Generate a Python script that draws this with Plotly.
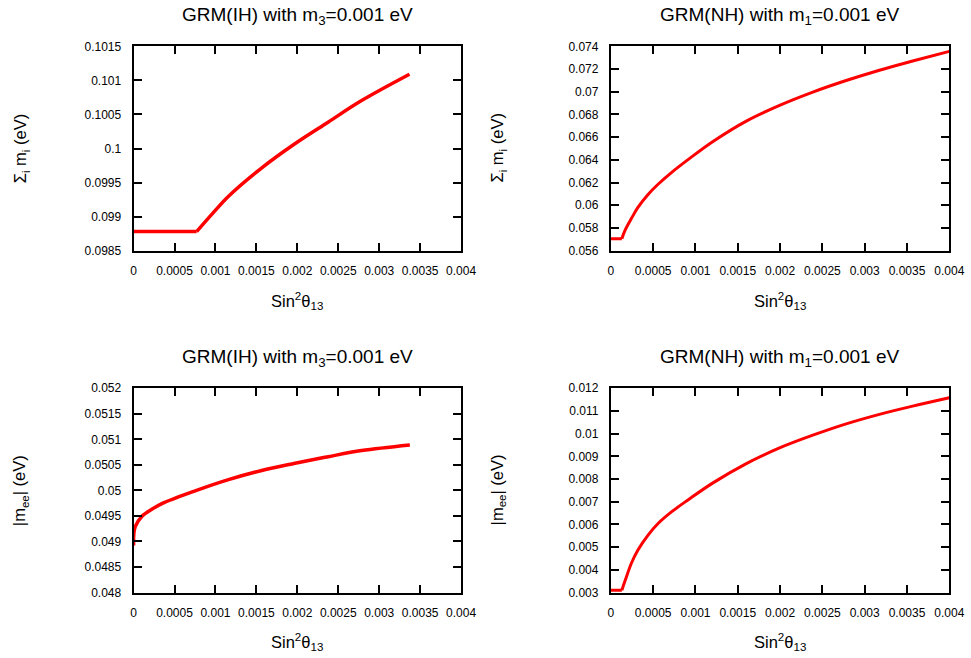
import plotly.graph_objects as go

# ---- data ----
ih_sum_x = [0, 0.00077, 0.00096, 0.00116, 0.00157, 0.00197, 0.00238, 0.00278, 0.00337]
ih_sum_y = [0.09878, 0.09878, 0.09904, 0.09930, 0.09972, 0.10007, 0.10039, 0.10070, 0.10109]

nh_sum_x = [0, 0.00013, 0.000165, 0.000244, 0.000322, 0.00044, 0.000558, 0.000716, 0.000912,
            0.001207, 0.001601, 0.001994, 0.002387, 0.002781, 0.003174, 0.003567, 0.004]
nh_sum_y = [0.05705, 0.05705, 0.05775, 0.05885, 0.05983, 0.06095, 0.06185, 0.06288, 0.06402,
            0.06562, 0.06742, 0.06880, 0.06997, 0.07099, 0.07190, 0.07271, 0.07356]

ih_mee_x = [0, 0, 0.00002, 0.0001, 0.000223, 0.000346, 0.000752, 0.001159, 0.001565,
            0.001972, 0.002378, 0.002785, 0.003374]
ih_mee_y = [0.04892, 0.04907, 0.04929, 0.04949, 0.04963, 0.04974, 0.04999, 0.05021, 0.05039,
            0.05053, 0.05066, 0.05078, 0.05089]

nh_mee_x = [0, 0.00013, 0.000173, 0.000244, 0.000322, 0.00044, 0.000558, 0.000716, 0.000912,
            0.001207, 0.001601, 0.001994, 0.002387, 0.002781, 0.003174, 0.003567, 0.004]
nh_mee_y = [0.0031, 0.0031, 0.00357, 0.0043, 0.00488, 0.00553, 0.00604, 0.00655, 0.00708,
            0.00783, 0.00868, 0.00937, 0.00993, 0.01043, 0.01085, 0.01121, 0.01158]

x_tickvals = [0, 0.0005, 0.001, 0.0015, 0.002, 0.0025, 0.003, 0.0035, 0.004]
x_ticktext = ["0", "0.0005", "0.001", "0.0015", "0.002", "0.0025", "0.003", "0.0035", "0.004"]

ih_sum_tickvals = [0.0985, 0.099, 0.0995, 0.1, 0.1005, 0.101, 0.1015]
ih_sum_ticktext = ["0.0985", "0.099", "0.0995", "0.1", "0.1005", "0.101", "0.1015"]
nh_sum_tickvals = [0.056, 0.058, 0.060, 0.062, 0.064, 0.066, 0.068, 0.070, 0.072, 0.074]
nh_sum_ticktext = ["0.056", "0.058", "0.06", "0.062", "0.064", "0.066", "0.068", "0.07", "0.072", "0.074"]
ih_mee_tickvals = [0.048, 0.0485, 0.049, 0.0495, 0.05, 0.0505, 0.051, 0.0515, 0.052]
ih_mee_ticktext = ["0.048", "0.0485", "0.049", "0.0495", "0.05", "0.0505", "0.051", "0.0515", "0.052"]
nh_mee_tickvals = [0.003, 0.004, 0.005, 0.006, 0.007, 0.008, 0.009, 0.010, 0.011, 0.012]
nh_mee_ticktext = ["0.003", "0.004", "0.005", "0.006", "0.007", "0.008", "0.009", "0.01", "0.011", "0.012"]

title_ih = "GRM(IH) with m<sub>3</sub>=0.001 eV"
title_nh = "GRM(NH) with m<sub>1</sub>=0.001 eV"
xlabel = "Sin<sup>2</sup>θ<sub>13</sub>"
ylabel_sum = "Σ<sub>i</sub> m<sub>i</sub> (eV)"
ylabel_mee = "|m<sub>ee</sub>| (eV)"

W, H = 971, 658
FONT = "Liberation Sans, Arial, Helvetica, sans-serif"
RED = "#ff0000"

# map target pixel positions to layout pixels (compensates the capture's slight scale/offset)
SX, OX = 0.983, 2.2
SY, OY = 0.982, 5.5


def fx(p):
    return ((p - OX) / SX) / W


def fy(p):
    return 1 - ((p - OY) / SY) / H


fig = go.Figure()

# panel geometry in target pixels: (left, right, top, bottom, title-x-center)
panels = [
    ("x", "y", (133, 461, 45, 250, 297), ih_sum_x, ih_sum_y, [0.0985, 0.1015], ih_sum_tickvals, ih_sum_ticktext, title_ih, ylabel_sum, 3.5),
    ("x2", "y2", (611, 950, 45, 250, 780), nh_sum_x, nh_sum_y, [0.056, 0.074], nh_sum_tickvals, nh_sum_ticktext, title_nh, ylabel_sum, 3),
    ("x3", "y3", (133, 461, 388, 593, 297), ih_mee_x, ih_mee_y, [0.048, 0.052], ih_mee_tickvals, ih_mee_ticktext, title_ih, ylabel_mee, 3.5),
    ("x4", "y4", (611, 950, 388, 593, 780), nh_mee_x, nh_mee_y, [0.003, 0.012], nh_mee_tickvals, nh_mee_ticktext, title_nh, ylabel_mee, 3),
]

annotations = []
for i, (xa, ya, (l, r, t, b, cx), xs, ys, yr, ytv, ytt, ttl, ylab, lw) in enumerate(panels):
    # straight start segment (flat part / jump), then smooth curve
    fig.add_trace(go.Scatter(x=xs[:2], y=ys[:2], mode="lines", xaxis=xa, yaxis=ya,
                             line=dict(color=RED, width=lw), showlegend=False, hoverinfo="skip"))
    fig.add_trace(go.Scatter(x=xs[1:], y=ys[1:], mode="lines", xaxis=xa, yaxis=ya,
                             line=dict(color=RED, width=lw, shape="spline", smoothing=1.0),
                             showlegend=False, hoverinfo="skip"))
    suffix = "" if i == 0 else str(i + 1)
    common = dict(showline=True, linecolor="black", linewidth=2, mirror="ticks",
                  ticks="inside", ticklen=8, tickwidth=1.5, tickcolor="black",
                  showgrid=False, zeroline=False,
                  tickfont=dict(family=FONT, size=12, color="black"))
    fig.update_layout(**{
        "xaxis" + suffix: dict(domain=[fx(l), fx(r)], range=[0, 0.004], tickvals=x_tickvals,
                               ticktext=x_ticktext, anchor=ya, ticklabelstandoff=8, **common),
        "yaxis" + suffix: dict(domain=[fy(b), fy(t)], range=yr, tickvals=ytv,
                               ticktext=ytt, anchor=xa, ticklabelstandoff=8, **common),
    })
    annotations.append(dict(text=ttl, x=fx(cx), y=fy(t - 30), xref="paper", yref="paper",
                            xanchor="center", yanchor="middle", showarrow=False,
                            font=dict(family=FONT, size=19, color="black")))
    annotations.append(dict(text=xlabel, x=fx(cx), y=fy(b + 50), xref="paper", yref="paper",
                            xanchor="center", yanchor="middle", showarrow=False,
                            font=dict(family=FONT, size=16.5, color="black")))
    annotations.append(dict(text=ylab, x=fx(l - 113), y=fy((t + b) / 2), xref="paper", yref="paper",
                            xanchor="center", yanchor="middle", showarrow=False, textangle=-90,
                            font=dict(family=FONT, size=16.5, color="black")))

fig.update_layout(width=W, height=H, margin=dict(l=0, r=0, t=0, b=0),
                  paper_bgcolor="white", plot_bgcolor="white", annotations=annotations,
                  font=dict(family=FONT, color="black"))

fig.write_html("out.html", config={"displayModeBar": False},
               post_script="document.body.style.margin='0';document.body.style.overflow='hidden';")
